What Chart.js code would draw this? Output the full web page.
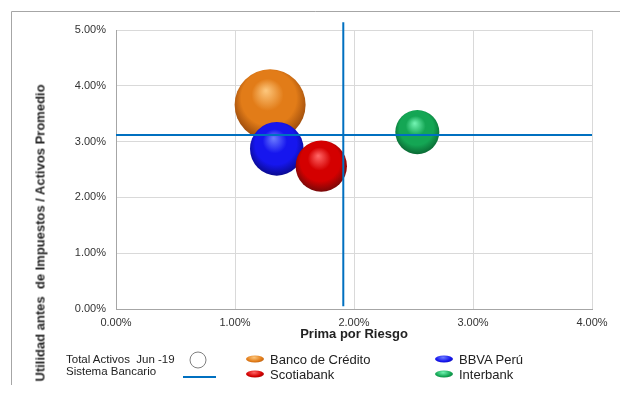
<!DOCTYPE html>
<html>
<head>
<meta charset="utf-8">
<script src="https://cdn.jsdelivr.net/npm/chart.js@4"></script>
<style>
  body { margin: 0; background: #fff; }
  #wrap { position: relative; width: 620px; height: 396px; font-family: "Liberation Sans", Arial, sans-serif; color: #222; }
  #chart { position: absolute; left: 0; top: 0; }
  .ytitle { position: absolute; left: 40px; top: 233px; transform: translate(-50%, -50%) rotate(-90deg); font-size: 13px; font-weight: bold; white-space: pre; }
  .leg { position: absolute; white-space: pre; line-height: 1; transform: translateY(-50%); }
  .small { font-size: 11.5px; }
  .big { font-size: 13px; }
  .icon { position: absolute; width: 18px; height: 7px; border-radius: 50%; transform: translateY(-50%); }
  .circle { position: absolute; width: 15px; height: 15px; border: 1px solid #7f7f7f; border-radius: 50%; transform: translate(-50%, -50%); background: #fff; }
  .sline { position: absolute; left: 183px; top: 376px; width: 33px; height: 2px; background: #0070c0; }
</style>
</head>
<body>
<div id="wrap">
  <canvas id="chart" width="620" height="396"></canvas>
  <div class="ytitle">Utilidad antes  de Impuestos / Activos Promedio</div>
  <div class="leg small" style="left:66px;top:360px">Total Activos  Jun -19</div>
  <div class="leg small" style="left:66px;top:372px">Sistema Bancario</div>
  <div class="circle" style="left:198px;top:360px"></div>
  <div class="sline"></div>
  <div id="legend"></div>
</div>
<script>
// Bancos (Jun-19)
const bancos = ["Banco de Crédito", "BBVA Perú", "Scotiabank", "Interbank"];
const primaRiesgo = [1.295, 1.351, 1.725, 2.532];   // % eje X
const utilidad = [3.66, 2.87, 2.56, 3.17];           // % eje Y
const activos = [130, 74, 68, 50];                   // total activos (S/ miles de millones, aprox)

// Sistema bancario
const sistemaPrima = 1.91;
const sistemaUtilidad = 3.12;
const lineaVertical = [0.05, 5.14];
const lineaHorizontal = [0, 4];

const xTicks = [0, 1, 2, 3, 4];
const yTicks = [0, 1, 2, 3, 4, 5];

const colores = [
  { hi: "#fcc57a", mid: "#e27c18", edge: "#9a4a0c" },
  { hi: "#6a7aff", mid: "#1616ee", edge: "#0a0a90" },
  { hi: "#ff6464", mid: "#d40000", edge: "#780808" },
  { hi: "#70f2b0", mid: "#14a654", edge: "#0a6a34" }
];
const radio = 35.5 / Math.sqrt(130);

// las esferas no deben empujar el area del grafico
Chart.BubbleController.prototype.getMaxOverflow = function () { return 0; };

function esfera(c) {
  return function (ctx) {
    const chart = ctx.chart;
    if (ctx.type !== "data" || !chart.chartArea) return c.mid;
    const x = chart.scales.x.getPixelForValue(ctx.raw.x);
    const y = chart.scales.y.getPixelForValue(ctx.raw.y);
    const r = ctx.raw.r;
    const g = chart.ctx.createRadialGradient(x - r * 0.12, y - r * 0.4, r * 0.02, x, y - r * 0.1, r * 1.1);
    g.addColorStop(0, c.hi);
    g.addColorStop(0.4, c.mid);
    g.addColorStop(0.7, c.mid);
    g.addColorStop(1, c.edge);
    return g;
  };
}

const datasets = [
  {
    type: "scatter",
    data: [{ x: lineaHorizontal[0], y: sistemaUtilidad }, { x: lineaHorizontal[1], y: sistemaUtilidad }],
    showLine: true, borderColor: "#0070c0", borderWidth: 2, pointRadius: 0, clip: false, order: 0
  },
  {
    type: "scatter",
    data: [{ x: sistemaPrima, y: lineaVertical[0] }, { x: sistemaPrima, y: lineaVertical[1] }],
    showLine: true, borderColor: "#0070c0", borderWidth: 2, pointRadius: 0, clip: false, order: 0
  }
];

bancos.forEach((b, i) => {
  datasets.push({
    label: b,
    data: [{ x: primaRiesgo[i], y: utilidad[i], r: Math.sqrt(activos[i]) * radio }],
    backgroundColor: esfera(colores[i]),
    borderWidth: 0,
    hoverBorderWidth: 0,
    clip: false,
    order: 10 - i
  });
});

const marco = {
  id: "marco",
  beforeDraw(chart) {
    const c = chart.ctx;
    c.save();
    c.strokeStyle = "#a6a6a6";
    c.lineWidth = 1;
    c.beginPath();
    c.moveTo(11.5, 385);
    c.lineTo(11.5, 11.5);
    c.lineTo(620, 11.5);
    c.stroke();
    c.restore();
  }
};

const ctx = document.getElementById("chart");
new Chart(ctx, {
  type: "bubble",
  data: { datasets: datasets },
  plugins: [marco],
  options: {
    responsive: false,
    animation: false,
    events: [],
    layout: { padding: { left: 0, top: 30, right: 28, bottom: 0 } },
    plugins: { legend: { display: false }, tooltip: { enabled: false } },
    scales: {
      x: {
        type: "linear", min: 0, max: 4,
        afterFit: (s) => { s.height = 87; },
        afterBuildTicks: (s) => { s.ticks = xTicks.map((v) => ({ value: v })); },
        grid: { color: "#d9d9d9", drawTicks: false },
        border: { color: "#a6a6a6" },
        ticks: { padding: 7, color: "#333", font: { family: "Liberation Sans", size: 11 }, callback: (v) => v.toFixed(2) + "%" },
        title: { display: true, text: "Prima por Riesgo", color: "#222", font: { family: "Liberation Sans", size: 13, weight: "bold" }, padding: { top: 0, bottom: 54 } }
      },
      y: {
        type: "linear", min: 0, max: 5,
        afterFit: (s) => { s.width = 116; },
        afterBuildTicks: (s) => { s.ticks = yTicks.map((v) => ({ value: v })); },
        grid: { color: "#d9d9d9", drawTicks: false },
        border: { color: "#a6a6a6" },
        ticks: { padding: 10, color: "#333", font: { family: "Liberation Sans", size: 11 }, callback: (v) => v.toFixed(2) + "%" }
      }
    }
  }
});

// leyenda de bancos
const legend = document.getElementById("legend");
const colX = [246, 435];
const rowY = [359, 374];
bancos.forEach((b, i) => {
  const col = i % 2, row = Math.floor(i / 2);
  const c = colores[i];
  const icon = document.createElement("div");
  icon.className = "icon";
  icon.style.left = colX[col] + "px";
  icon.style.top = rowY[row] + "px";
  icon.style.background = "radial-gradient(ellipse at 45% 30%, " + c.hi + " 0%, " + c.mid + " 55%, " + c.edge + " 100%)";
  legend.appendChild(icon);
  const t = document.createElement("div");
  t.className = "leg big";
  t.style.left = (colX[col] + 24) + "px";
  t.style.top = rowY[row] + "px";
  t.textContent = b;
  legend.appendChild(t);
});
</script>
</body>
</html>
